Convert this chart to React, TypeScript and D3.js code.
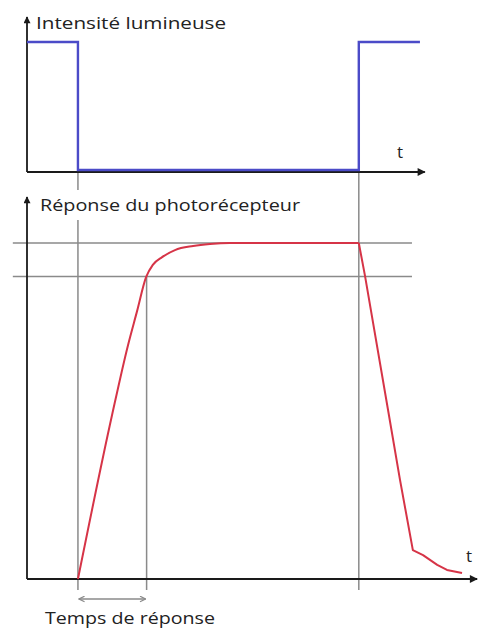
import React from "react";
import * as d3 from "d3";

// time in arbitrary units (0..100)
const intensityTimes = [0, 11.5, 11.5, 74.9, 74.9, 88.7];
const intensityValues = [1, 1, 0, 0, 1, 1];

// rising phase (smooth)
const riseTimes = [11.5, 19.2, 22.8, 24.8, 26.9, 28.4, 30.5, 33.4, 37.5, 41.3, 45.8, 74.9];
const riseValues = [0, 0.488, 0.696, 0.795, 0.899, 0.935, 0.958, 0.979, 0.991, 0.997, 1, 1];
// decay phase
const fallTimes = [74.9, 76.3, 81.5, 84.2, 87.1, 89.4, 92.6, 94.8, 98.2];
const fallValues = [1, 0.902, 0.503, 0.295, 0.086, 0.071, 0.042, 0.027, 0.018];

const thresholdLevels = [1, 0.9];
const eventTimes = [11.5, 27.0, 74.9];

const labelIntensity = "Intensité lumineuse";
const labelResponse = "Réponse du photorécepteur";
const labelTime = "t";
const labelResponseTime = "Temps de réponse";

export default function App() {
  const x = d3.scaleLinear().domain([0, 100]).range([27, 470]);
  const yI = d3.scaleLinear().domain([0, 1]).range([170, 42]);
  const yR = d3.scaleLinear().domain([0, 1]).range([579, 243]);

  const linear = d3.line<[number, number]>().x((d) => x(d[0])).y((d) => d[1]);
  const smooth = d3.line<[number, number]>().x((d) => x(d[0])).y((d) => d[1]).curve(d3.curveMonotoneX);

  const intensityPath = linear(intensityTimes.map((t, i) => [t, yI(intensityValues[i])]))!;
  const risePath = smooth(riseTimes.map((t, i) => [t, yR(riseValues[i])]))!;
  const fallPath = linear(fallTimes.map((t, i) => [t, yR(fallValues[i])]))!;

  const topAxisY = yI(0) + 2;
  const font = "'Open Sans', sans-serif";
  const gray = "#8a8a8a";
  const axisColor = "#1a1a1a";
  const red = "#d63447";

  return (
    <svg width={478} height={630} style={{ position: "absolute", left: 0, top: 0, background: "#fff" }}>
      <defs>
        <marker id="arr" viewBox="0 0 10 10" refX="9" refY="5" markerWidth="10" markerHeight="8" markerUnits="userSpaceOnUse" orient="auto">
          <path d="M0,0 L10,5 L0,10 z" fill={axisColor} />
        </marker>
        <marker id="arrSmall" viewBox="0 0 10 10" refX="9" refY="5" markerWidth="8" markerHeight="7" markerUnits="userSpaceOnUse" orient="auto">
          <path d="M0,0 L10,5 L0,10 z" fill={axisColor} />
        </marker>
        <marker id="chev" viewBox="0 0 10 10" refX="9" refY="5" markerWidth="7" markerHeight="7" markerUnits="userSpaceOnUse" orient="auto-start-reverse">
          <path d="M1,1 L9,5 L1,9" fill="none" stroke={gray} strokeWidth={1.8} />
        </marker>
      </defs>

      {/* gray threshold lines */}
      {thresholdLevels.map((v) => (
        <line key={v} x1={x(-3.2)} x2={x(86.9)} y1={yR(v)} y2={yR(v)} stroke={gray} strokeWidth={1.5} />
      ))}

      {/* gray vertical event lines */}
      <line x1={x(eventTimes[0])} x2={x(eventTimes[0])} y1={topAxisY} y2={190} stroke={gray} strokeWidth={1.5} />
      <line x1={x(eventTimes[0])} x2={x(eventTimes[0])} y1={220} y2={590} stroke={gray} strokeWidth={1.5} />
      <line x1={x(eventTimes[1])} x2={x(eventTimes[1])} y1={yR(0.9)} y2={590} stroke={gray} strokeWidth={1.5} />
      <line x1={x(eventTimes[2])} x2={x(eventTimes[2])} y1={topAxisY} y2={590} stroke={gray} strokeWidth={1.5} />

      {/* response time double arrow */}
      <line x1={x(eventTimes[0]) + 1} x2={x(eventTimes[1]) - 1} y1={599} y2={599} stroke={gray} strokeWidth={1.5}
        markerStart="url(#chev)" markerEnd="url(#chev)" />

      {/* top axes */}
      <line x1={x(0)} x2={x(0)} y1={topAxisY} y2={yI(1.195)} stroke={axisColor} strokeWidth={1.8} markerEnd="url(#arrSmall)" />
      <line x1={x(0)} x2={x(89.8)} y1={topAxisY} y2={topAxisY} stroke={axisColor} strokeWidth={1.8} markerEnd="url(#arr)" />

      {/* bottom axes */}
      <line x1={x(0)} x2={x(0)} y1={yR(0)} y2={yR(1.137)} stroke={axisColor} strokeWidth={1.8} markerEnd="url(#arrSmall)" />
      <line x1={x(0)} x2={x(101.6)} y1={yR(0)} y2={yR(0)} stroke={axisColor} strokeWidth={1.8} markerEnd="url(#arr)" />

      {/* signals */}
      <path d={intensityPath} fill="none" stroke="#4b4bc8" strokeWidth={2.4} />
      <path d={risePath} fill="none" stroke={red} strokeWidth={2} strokeLinejoin="round" />
      <path d={fallPath} fill="none" stroke={red} strokeWidth={2} strokeLinejoin="round" />

      {/* labels */}
      <text x={36} y={29} fontFamily={font} fontSize={17} fill="#222" textLength={190} lengthAdjust="spacingAndGlyphs">{labelIntensity}</text>
      <text x={40} y={211} fontFamily={font} fontSize={17} fill="#222" textLength={260} lengthAdjust="spacingAndGlyphs">{labelResponse}</text>
      <text x={397} y={158} fontFamily={font} fontSize={17} fill="#222">{labelTime}</text>
      <text x={466} y={562} fontFamily={font} fontSize={17} fill="#222">{labelTime}</text>
      <text x={45} y={624} fontFamily={font} fontSize={17} fill="#222" textLength={170} lengthAdjust="spacingAndGlyphs">{labelResponseTime}</text>
    </svg>
  );
}
